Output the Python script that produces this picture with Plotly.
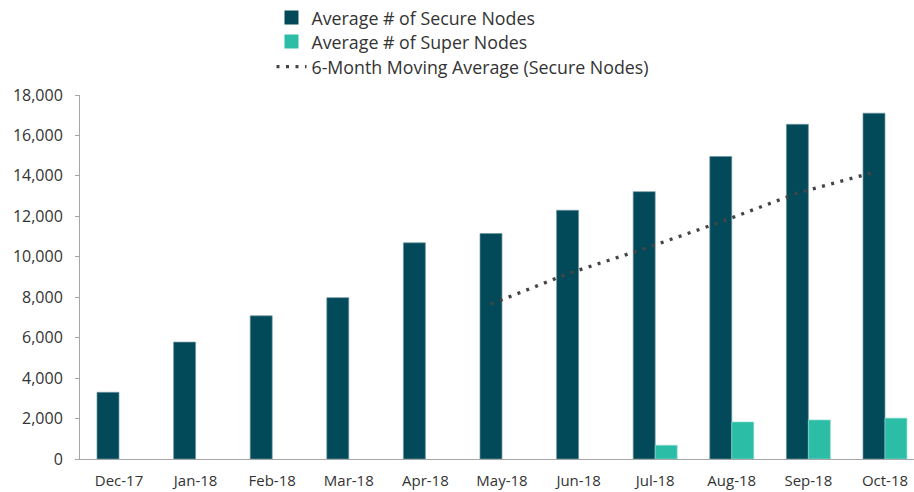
import plotly.graph_objects as go

months = ["Dec-17", "Jan-18", "Feb-18", "Mar-18", "Apr-18", "May-18",
          "Jun-18", "Jul-18", "Aug-18", "Sep-18", "Oct-18"]
secure_nodes = [3300, 5780, 7080, 7980, 10690, 11150, 12300, 13220, 14960, 16550, 17100]
super_nodes = [None, None, None, None, None, None, None, 680, 1830, 1930, 2020]
ma_months = ["May-18", "Jun-18", "Jul-18", "Aug-18", "Sep-18", "Oct-18"]
ma_values = [7660, 9160, 10400, 11720, 13150, 14180]
y_ticks = [0, 2000, 4000, 6000, 8000, 10000, 12000, 14000, 16000, 18000]

SECURE = "#024A5A"
SUPER = "#2CBDA6"
FONT = "'Open Sans', Lato, sans-serif"

r0, r1 = -0.509, 10.379
half_bar = 0.1435

fig = go.Figure()
fig.add_trace(go.Bar(
    x=months, y=secure_nodes, name="Average # of Secure Nodes",
    marker=dict(color=SECURE, line=dict(color="#6E97A0", width=0.7)),
    showlegend=False, legendgroup="secure",
))
fig.add_trace(go.Bar(
    x=months, y=super_nodes, name="Average # of Super Nodes",
    marker=dict(color=SUPER, line=dict(color="#8ADBCD", width=0.7)),
    showlegend=False, legendgroup="super",
))
# legend entries with larger square swatches
fig.add_trace(go.Scatter(
    x=[None], y=[None], mode="markers", name="Average # of Secure Nodes",
    marker=dict(symbol="square", size=14, color=SECURE), legendgroup="secure",
    legend="legend",
))
fig.add_trace(go.Scatter(
    x=[None], y=[None], mode="markers", name="Average # of Super Nodes",
    marker=dict(symbol="square", size=14, color=SUPER), legendgroup="super",
    legend="legend2",
))
fig.add_trace(go.Scatter(
    x=ma_months, y=ma_values, name="6-Month Moving Average (Secure Nodes)",
    mode="lines", xaxis="x2", legend="legend3",
    line=dict(color="#444444", width=3.3, dash="3px,6.5px"),
))

leg_common = dict(
    x=0.2296, xanchor="left", yanchor="middle", orientation="v",
    font=dict(size=17.8, color="#333333"), bgcolor="rgba(0,0,0,0)",
    itemwidth=30,
)

fig.update_layout(
    width=914, height=492,
    margin=dict(l=80, r=0, t=95, b=33, autoexpand=False),
    paper_bgcolor="white", plot_bgcolor="white",
    font=dict(family=FONT, size=14, color="#333333"),
    barmode="group", bargap=0.426, bargroupgap=0,
    showlegend=True,
    legend=dict(y=1.2115, **leg_common),
    legend2=dict(y=1.1456, **leg_common),
    legend3=dict(y=1.0769, **leg_common),
    xaxis=dict(
        type="category", categoryorder="array", categoryarray=months,
        range=[r0, r1], showline=True, linecolor="#A6A6A6", linewidth=1,
        ticks="", showgrid=False, zeroline=False,
        tickfont=dict(size=15, color="#333333"),
        ticklabelstandoff=8,
    ),
    xaxis2=dict(
        type="category", categoryorder="array", categoryarray=months,
        range=[r0 + half_bar, r1 + half_bar], overlaying="x",
        visible=False, showgrid=False,
    ),
    yaxis=dict(
        range=[0, 18000], tickvals=y_ticks, tickformat=",d",
        showline=True, linecolor="#A6A6A6", linewidth=1,
        ticks="outside", ticklen=4, tickcolor="#A6A6A6",
        showgrid=False, zeroline=False,
        tickfont=dict(size=16, color="#333333"),
        ticklabelstandoff=9,
    ),
)

fig.write_html(
    "out.html",
    config={"displayModeBar": False},
    post_script="document.body.style.margin='0px';document.body.style.overflow='hidden';",
)
